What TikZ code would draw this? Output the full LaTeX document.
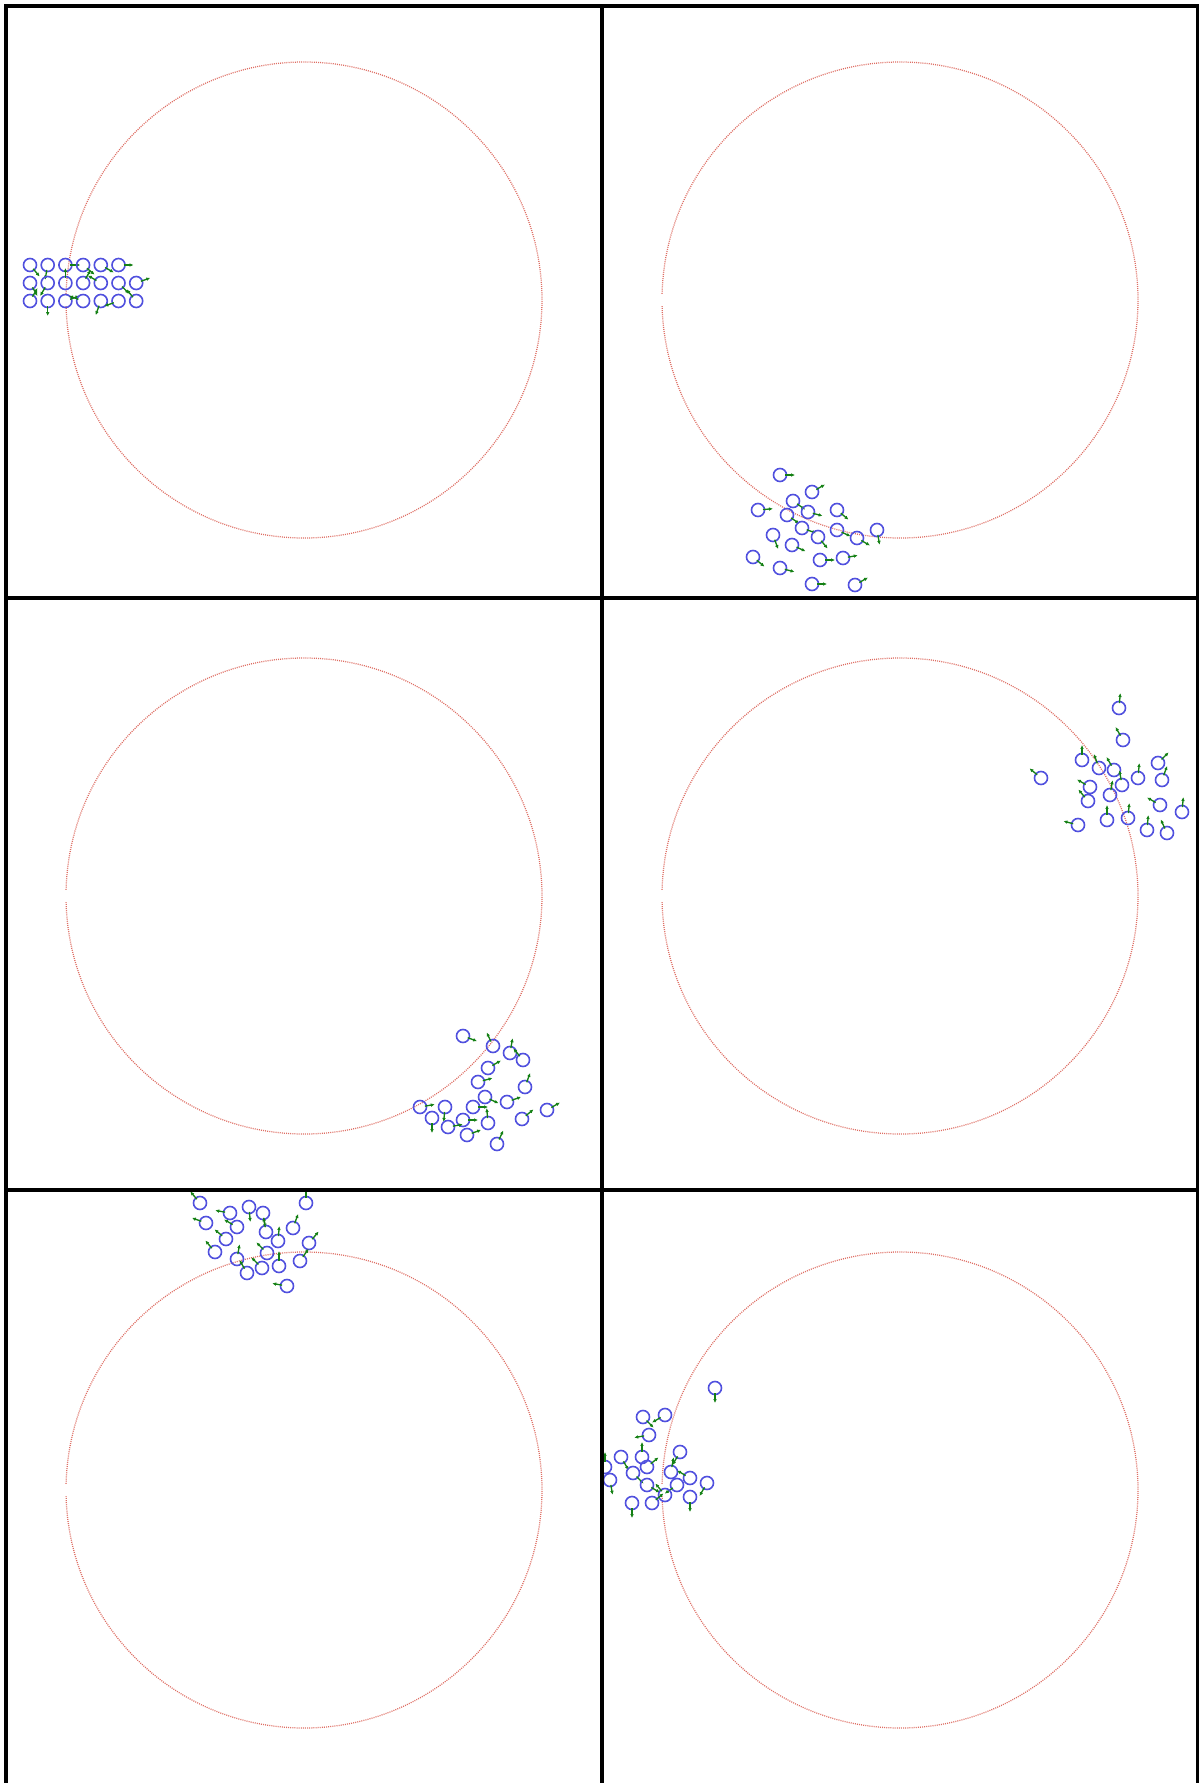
\documentclass[tikz,border=0pt]{standalone}
\usepackage{xcolor}
\usetikzlibrary{arrows.meta}

\definecolor{ptblue}{RGB}{80,80,222}
\definecolor{velgreen}{RGB}{20,128,20}
\definecolor{ringred}{RGB}{222,110,100}

% one particle: ring plus velocity arrow (angle counted upwards)
\newcommand{\ptcl}[3]{%
  \draw[particle] (#1,#2) circle (6.5);
  \draw[velocity] (#1,#2) ++({-(#3)}:5) -- ++({-(#3)}:10);}
% dotted wall with its small gap on the left
\newcommand{\wall}[2]{%
  \draw[wall] (#1,#2) ++(181.5:238) arc[start angle=181.5, end angle=538.5, radius=238];}

\begin{document}
\begin{tikzpicture}[x=0.25mm, y=-0.25mm,
    particle/.style={draw=ptblue, line width=1.15pt},
    velocity/.style={draw=velgreen, line width=0.95pt, -{Latex[length=2.8pt,width=2.6pt]}},
    wall/.style={draw=ringred, line width=0.9pt, dash pattern=on 0.7pt off 0.8pt},
    frame/.style={draw=black, line width=2.7pt}]
    \useasboundingbox (0,0) rectangle (1199,1783);

    % panel 1
    \begin{scope}
        \clip (6,6) rectangle (602,598);
        \wall{304}{300}
        \foreach \x/\y/\a in {30/265/-50, 47.7/265/-100, 65.4/265/0, 83.1/265/-40, 100.8/265/-30, 118.5/265/0,
            30/283/-60, 47.7/283/-120, 65.4/283/90, 83.1/283/60, 100.8/283/150, 118.5/283/-45, 136.2/283/20,
            30/301/60, 47.7/301/-90, 65.4/301/20, 83.1/301/160, 100.8/301/-110, 118.5/301/200, 136.2/301/130}
            \ptcl{\x}{\y}{\a};
    \end{scope}

    % panel 2
    \begin{scope}
        \clip (602,6) rectangle (1198,598);
        \wall{900}{300}
        \foreach \x/\y/\a in {780/475/0, 812/492/30, 793/501/-35, 758/510/5, 787/515/-35,
            808/512/-15, 837/510/-40, 802/528/-20, 818/537/-50, 837/530/-25,
            857/538/-30, 877/530/-80, 773/535/-70, 792/545/-25, 820/560/0,
            843/558/10, 753/557/-40, 780/568/-15, 812/584/0, 855/585/30}
            \ptcl{\x}{\y}{\a};
    \end{scope}

    % panel 3
    \begin{scope}
        \clip (6,598) rectangle (602,1190);
        \wall{304}{896}
        \foreach \x/\y/\a in {463/1036/-20, 493/1046/115, 510/1053/80, 523/1060/130, 488/1068/30,
            478/1082/15, 525/1087/70, 485/1097/-25, 507/1102/20, 473/1107/0,
            420/1107/10, 445/1107/-95, 432/1118/-90, 463/1120/0, 488/1123/95,
            448/1127/10, 467/1135/20, 522/1119/40, 547/1110/30, 497/1144/65}
            \ptcl{\x}{\y}{\a};
    \end{scope}

    % panel 4
    \begin{scope}
        \clip (602,598) rectangle (1198,1190);
        \wall{900}{896}
        \foreach \x/\y/\a in {1119/708/85, 1123/740/120, 1041/778/140, 1082/760/90, 1099/768/110,
            1114/770/120, 1090/787/150, 1122/785/100, 1138/778/85, 1158/763/45,
            1162/780/70, 1088/801/130, 1110/795/80, 1160/805/150, 1182/812/85,
            1078/825/165, 1107/820/90, 1128/818/85, 1147/830/85, 1167/833/115}
            \ptcl{\x}{\y}{\a};
    \end{scope}

    % panel 5
    \begin{scope}
        \clip (6,1190) rectangle (602,1783);
        \wall{304}{1490}
        \foreach \x/\y/\a in {200/1203/130, 230/1213/170, 249/1207/-85, 263/1213/-80, 306/1203/90,
            206/1223/160, 237/1227/150, 266/1232/100, 293/1228/70, 226/1239/140,
            278/1241/85, 309/1243/50, 215/1252/130, 267/1253/135, 237/1259/80,
            262/1268/135, 279/1266/90, 300/1261/55, 247/1273/120, 287/1286/170}
            \ptcl{\x}{\y}{\a};
    \end{scope}

    % panel 6
    \begin{scope}
        \clip (602,1190) rectangle (1198,1783);
        \wall{900}{1490}
        \foreach \x/\y/\a in {715/1388/-90, 643/1417/-45, 665/1415/210, 649/1435/190, 680/1452/240,
            621/1457/-60, 642/1457/90, 647/1467/40, 605/1467/90, 633/1473/-45,
            671/1472/80, 610/1480/-80, 647/1485/-30, 677/1485/215, 690/1478/150,
            707/1483/240, 665/1495/130, 652/1503/40, 632/1503/-90, 690/1497/-90}
            \ptcl{\x}{\y}{\a};
    \end{scope}

    % frame
    \draw[frame] (6,1783) -- (6,6) -- (1197.5,6) -- (1197.5,1783);
    \draw[frame] (602,6) -- (602,1783);
    \draw[frame] (6,598) -- (1197.5,598);
    \draw[frame] (6,1190) -- (1197.5,1190);
\end{tikzpicture}
\end{document}
